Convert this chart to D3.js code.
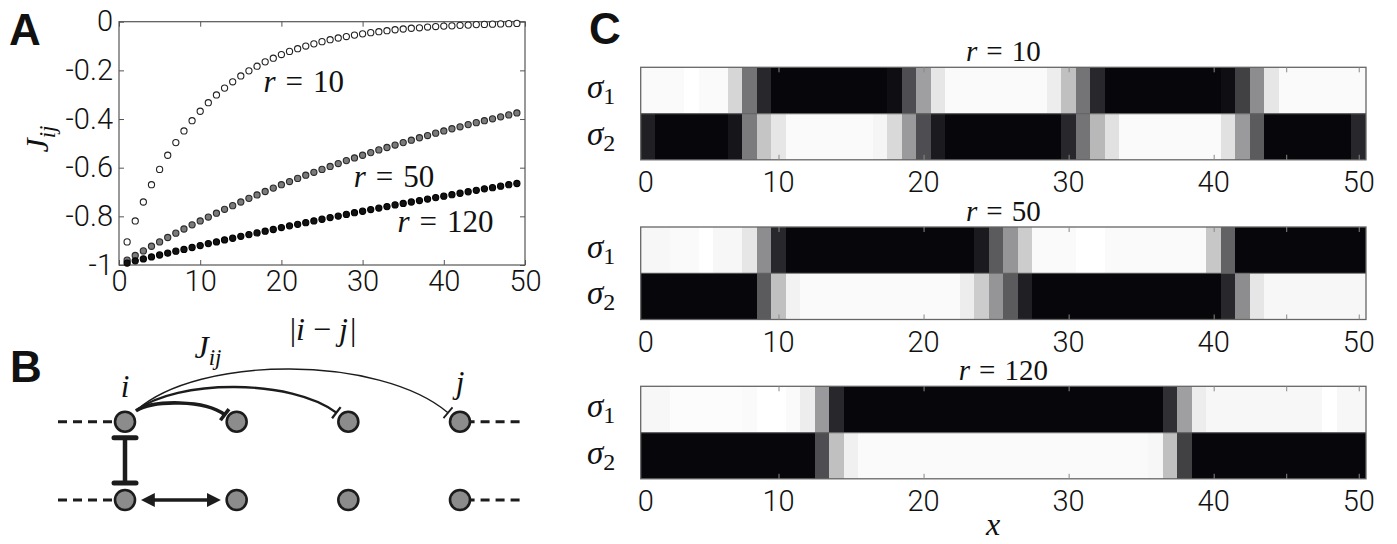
<!DOCTYPE html>
<html>
<head>
<meta charset="utf-8">
<script src="https://cdn.jsdelivr.net/npm/d3@7"></script>
<style>
  body { margin: 0; background: #fff; }
  svg text { fill: #111; }
  .num { font-family: Roboto, 'Liberation Sans', sans-serif; font-weight: 300; }
  .math { font-family: 'Liberation Serif', serif; }
  .panel { font-family: 'Liberation Sans', Arial, sans-serif; font-weight: bold; }
</style>
</head>
<body>
<svg width="1397" height="544"></svg>
<script>
'use strict';

// ---- panel A: coupling J_ij against distance |i-j|
var dist = [1,2,3,4,5,6,7,8,9,10,11,12,13,14,15,16,17,18,19,20,21,22,23,24,25,
  26,27,28,29,30,31,32,33,34,35,36,37,38,39,40,41,42,43,44,45,46,47,48,49];
var jR10 = [-0.905,-0.819,-0.741,-0.670,-0.607,-0.549,-0.497,-0.449,-0.407,-0.368,
  -0.333,-0.301,-0.273,-0.247,-0.223,-0.202,-0.183,-0.165,-0.150,-0.135,
  -0.122,-0.111,-0.100,-0.091,-0.082,-0.074,-0.067,-0.061,-0.055,-0.050,
  -0.045,-0.041,-0.037,-0.033,-0.030,-0.027,-0.025,-0.022,-0.020,-0.018,
  -0.017,-0.015,-0.014,-0.012,-0.011,-0.010,-0.009,-0.008,-0.007];
var jR50 = [-0.980,-0.961,-0.942,-0.923,-0.905,-0.887,-0.869,-0.852,-0.835,-0.819,
  -0.803,-0.787,-0.771,-0.756,-0.741,-0.726,-0.712,-0.698,-0.684,-0.670,
  -0.657,-0.644,-0.631,-0.619,-0.607,-0.595,-0.583,-0.571,-0.560,-0.549,
  -0.538,-0.527,-0.517,-0.507,-0.497,-0.487,-0.477,-0.468,-0.458,-0.449,
  -0.440,-0.432,-0.423,-0.415,-0.407,-0.399,-0.391,-0.383,-0.375];
var jR120 = [-0.992,-0.983,-0.975,-0.967,-0.959,-0.951,-0.943,-0.936,-0.928,-0.920,
  -0.912,-0.905,-0.897,-0.890,-0.882,-0.875,-0.868,-0.861,-0.854,-0.846,
  -0.839,-0.833,-0.826,-0.819,-0.812,-0.805,-0.799,-0.792,-0.785,-0.779,
  -0.772,-0.766,-0.760,-0.753,-0.747,-0.741,-0.735,-0.729,-0.723,-0.717,
  -0.711,-0.705,-0.699,-0.693,-0.687,-0.682,-0.676,-0.670,-0.665];
var radii = [10, 50, 120];
var curveLabelPos = [[17.8, -0.29], [28.9, -0.678], [34.3, -0.863]];
var xTicksA = [0, 10, 20, 30, 40, 50];
var yTicksA = [0, -0.2, -0.4, -0.6, -0.8, -1];

// ---- panel C: mean spin of the two chains (0 black .. 1 white), sites 1..50
var s1R10 = [.98,.98,.98,1,.98,.98,.84,.45,.15,.02,.02,.02,.02,.02,.02,.02,.02,.05,.3,.62,
  .9,.98,.98,.98,.98,.98,.98,.98,.93,.75,.45,.15,.02,.02,.02,.02,.02,.02,.02,.02,
  .05,.25,.55,.9,.98,.98,.98,.98,.98,.98];
var s2R10 = [.12,.02,.02,.02,.02,.02,.08,.48,.77,.9,.98,.98,.98,.98,.98,.98,.96,.85,.6,.3,
  .1,.02,.02,.02,.02,.02,.02,.02,.02,.15,.45,.72,.88,.98,.98,.98,.98,.98,.98,.98,
  .88,.6,.35,.02,.02,.02,.02,.02,.02,.15];
var s1R50 = [.97,.97,.98,.98,1,.97,.97,.9,.55,.15,.02,.02,.02,.02,.02,.02,.02,.02,.02,.02,
  .02,.02,.02,.1,.35,.58,.8,.98,.98,.98,1,1,.98,.98,.98,.98,.98,.98,.98,.78,
  .38,.02,.02,.02,.02,.02,.02,.02,.02,.02];
var s2R50 = [.02,.02,.02,.02,.02,.02,.02,.02,.35,.75,.95,.98,.98,.98,.98,.98,.98,.98,.98,.98,
  .98,.98,.93,.8,.58,.35,.12,.02,.02,.02,.02,.02,.02,.02,.02,.02,.02,.02,.02,.02,
  .15,.55,.9,.97,.97,.97,.97,.97,.97,.97];
var s1R120 = [.97,.97,.99,.99,.99,.99,.99,.98,1,1,.98,.93,.6,.15,.02,.02,.02,.02,.02,.02,
  .02,.02,.02,.02,.02,.02,.02,.02,.02,.02,.02,.02,.02,.02,.02,.02,.18,.62,.93,.97,
  .97,.97,.97,.97,.97,.97,.97,1,.97,.97];
var s2R120 = [.02,.02,.02,.02,.02,.02,.02,.02,.02,.02,.02,.02,.3,.75,.94,.98,.98,.98,.98,.98,
  .98,.98,.98,.98,.98,.98,.98,.98,.98,.98,.98,.98,.98,.98,.98,.97,.75,.25,.02,.02,
  .02,.02,.02,.02,.02,.02,.02,.02,.02,.02];
var stripsC = [[s1R10, s2R10], [s1R50, s2R50], [s1R120, s2R120]];
var xTicksC = [10, 20, 30, 40, 45, 50];
var xLabelsC = [0, 10, 20, 30, 40, 50];

// ---- panel B: lattice sketch
var latticeCols = [0, 1, 2, 3];
var latticeRows = [0, 1];
var arcs = [ { to: 1, peak: 403, w: 3.6 }, { to: 2, peak: 387, w: 2.3 }, { to: 3, peak: 369, w: 1.4 } ];

var svg = d3.select('svg');
var fmtA = d => d === 0 ? '0' : d === -1 ? '-1' : '-' + Math.abs(d).toFixed(1);

function mathLabel(g, x, y, size, parts, anchor) {
  var t = g.append('text').attr('class', 'math').attr('x', x).attr('y', y)
    .attr('font-size', size).attr('text-anchor', anchor || 'start');
  parts.forEach(p => {
    var s = t.append('tspan').text(p.t);
    if (p.i) s.attr('font-style', 'italic');
    if (p.dx) s.attr('dx', p.dx);
    if (p.dy) s.attr('dy', p.dy);
    if (p.fs) s.attr('font-size', p.fs);
  });
  return t;
}

// ================= panel A
(function () {
  var x = d3.scaleLinear().domain([0, 50]).range([119, 525]);
  var y = d3.scaleLinear().domain([-1, 0]).range([265, 21.7]);
  var g = svg.append('g');

  g.append('rect').attr('x', x(0)).attr('y', y(0)).attr('width', x(50) - x(0)).attr('height', y(-1) - y(0))
    .attr('fill', 'none').attr('stroke', '#555').attr('stroke-width', 1.2);

  var ax = g.append('g').attr('transform', `translate(0,${y(-1)})`).attr('class', 'num')
    .call(d3.axisBottom(x).tickValues(xTicksA).tickSizeInner(-5).tickSizeOuter(0).tickPadding(5));
  ax.selectAll('text').attr('font-size', 29).attr('font-family', null).attr('fill', '#111');
  var ay = g.append('g').attr('transform', `translate(${x(0)},0)`).attr('class', 'num')
    .call(d3.axisLeft(y).tickValues(yTicksA).tickSizeInner(-5).tickSizeOuter(0).tickPadding(6).tickFormat(fmtA));
  ay.selectAll('text').attr('font-size', 29).attr('font-family', null).attr('fill', '#111');
  g.append('g').attr('transform', `translate(0,${y(0)})`)
    .call(d3.axisTop(x).tickValues(xTicksA).tickSizeInner(-5).tickSizeOuter(0).tickFormat(''));
  g.append('g').attr('transform', `translate(${x(50)},0)`)
    .call(d3.axisRight(y).tickValues(yTicksA).tickSizeInner(-5).tickSizeOuter(0).tickFormat(''));
  g.selectAll('.domain').remove();
  g.selectAll('.tick line').attr('stroke', '#555');

  var series = [
    { vals: jR10, fill: '#fff', stroke: '#222' },
    { vals: jR50, fill: '#7a7a7a', stroke: '#2a2a2a' },
    { vals: jR120, fill: '#111', stroke: '#000' }
  ];
  series.forEach(s => {
    g.append('g').selectAll('circle').data(dist).join('circle')
      .attr('cx', d => x(d)).attr('cy', (d, i) => y(s.vals[i])).attr('r', 3.1)
      .attr('fill', s.fill).attr('stroke', s.stroke).attr('stroke-width', 1.1);
  });

  radii.forEach((r, k) => {
    mathLabel(g, x(curveLabelPos[k][0]), y(curveLabelPos[k][1]), 31,
      [{ t: 'r', i: 1 }, { t: '=', dx: 10 }, { t: String(r), dx: 10 }]);
  });

  mathLabel(svg, 323, 340, 32, [{ t: '|' }, { t: 'i', i: 1 }, { t: '−', dx: 8 }, { t: 'j', i: 1, dx: 8 }, { t: '|', dx: 2 }], 'middle');
  var yl = svg.append('g').attr('transform', 'translate(48,139) rotate(-90)');
  mathLabel(yl, 0, 0, 32, [{ t: 'J', i: 1 }, { t: 'ij', i: 1, dy: 7, fs: 23 }], 'middle');

  svg.append('text').attr('class', 'panel').attr('x', 9).attr('y', 45).attr('font-size', 44).text('A');
})();

// ================= panel B
(function () {
  var cx = d3.scaleLinear().domain([0, 3]).range([125, 460]);
  var ry = d3.scaleOrdinal().domain(latticeRows).range([421.7, 500]);
  var g = svg.append('g');
  var ink = '#1c1c1c';

  var defs = svg.append('defs');
  defs.append('marker').attr('id', 'ah').attr('viewBox', '0 0 10 10').attr('refX', 7).attr('refY', 5)
    .attr('markerWidth', 14).attr('markerHeight', 14).attr('markerUnits', 'userSpaceOnUse').attr('orient', 'auto-start-reverse')
    .append('path').attr('d', 'M0,0 L10,5 L0,10 Z').attr('fill', ink);

  // dashed continuation of both chains
  latticeRows.forEach(r => {
    [[-0.6, -0.05], [3.05, 3.56]].forEach(seg => {
      g.append('line').attr('x1', cx(seg[0])).attr('x2', cx(seg[1])).attr('y1', ry(r)).attr('y2', ry(r))
        .attr('stroke', ink).attr('stroke-width', 3).attr('stroke-dasharray', '9,6');
    });
  });

  // arcs from i with T heads
  arcs.forEach(a => {
    var x0 = cx(0) + 11, y0 = ry(0) - 11;
    var x1 = cx(a.to) - 12, y1 = ry(0) - (a.to === 1 ? 7 : 9);
    var c = (a.peak - (y0 + y1) / 8) / 0.75;
    var c1x = x0 + (x1 - x0) * 0.2, c2x = x1 - (x1 - x0) * 0.22;
    var p = d3.path();
    p.moveTo(x0, y0);
    p.bezierCurveTo(c1x, c, c2x, c, x1, y1);
    g.append('path').attr('d', p.toString()).attr('fill', 'none').attr('stroke', ink).attr('stroke-width', a.w);
    var dx = x1 - c2x, dy = y1 - c, len = Math.hypot(dx, dy);
    var nx = -dy / len * 7, ny = dx / len * 7;
    g.append('line').attr('x1', x1 + nx).attr('y1', y1 + ny).attr('x2', x1 - nx).attr('y2', y1 - ny)
      .attr('stroke', ink).attr('stroke-width', Math.max(a.w, 1.8));
  });

  // vertical inhibition bar between chains
  var vy0 = ry(0) + 16, vy1 = ry(1) - 17;
  g.append('line').attr('x1', cx(0)).attr('x2', cx(0)).attr('y1', vy0).attr('y2', vy1)
    .attr('stroke', ink).attr('stroke-width', 4.5);
  [vy0, vy1].forEach(yy => g.append('line').attr('x1', cx(0) - 11).attr('x2', cx(0) + 11).attr('y1', yy).attr('y2', yy)
    .attr('stroke', ink).attr('stroke-width', 5).attr('stroke-linecap', 'round'));

  // double arrow on lower chain
  g.append('line').attr('x1', cx(0) + 20).attr('x2', cx(1) - 20).attr('y1', ry(1)).attr('y2', ry(1))
    .attr('stroke', ink).attr('stroke-width', 3.5).attr('marker-start', 'url(#ah)').attr('marker-end', 'url(#ah)');

  latticeRows.forEach(r => {
    g.append('g').selectAll('circle').data(latticeCols).join('circle')
      .attr('cx', d => cx(d)).attr('cy', ry(r)).attr('r', 10)
      .attr('fill', '#8c8c8c').attr('stroke', ink).attr('stroke-width', 2.6);
  });

  mathLabel(g, cx(0), 397, 31, [{ t: 'i', i: 1 }], 'middle');
  mathLabel(g, cx(3), 393, 31, [{ t: 'j', i: 1 }], 'middle');
  mathLabel(g, 208, 358, 32, [{ t: 'J', i: 1 }, { t: 'ij', i: 1, dy: 7, fs: 23 }], 'middle');

  svg.append('text').attr('class', 'panel').attr('x', 10).attr('y', 382).attr('font-size', 44).text('B');
})();

// ================= panel C
(function () {
  var x = d3.scaleLinear().domain([0.5, 50.5]).range([640.7, 1366]);
  var shade = d3.scaleLinear().domain([0, 1]).range(['#020106', '#ffffff']);
  var tops = [67.3, 227, 386.3];
  var h = 92.5;
  var sites = s1R10.map((d, i) => i + 1);

  radii.forEach((r, k) => {
    var g = svg.append('g').attr('transform', `translate(0,${tops[k]})`);
    stripsC[k].forEach((row, j) => {
      g.append('g').attr('shape-rendering', 'crispEdges').selectAll('rect').data(row).join('rect')
        .attr('x', (d, i) => x(sites[i] - 0.5))
        .attr('y', j * h / 2)
        .attr('width', (d, i) => (i === row.length - 1 ? 0 : 1) + x(1.5) - x(0.5))
        .attr('height', h / 2 + (j === 0 ? 1 : 0))
        .attr('fill', d => shade(d));
    });
    g.append('line').attr('x1', x(0.5)).attr('x2', x(50.5)).attr('y1', h / 2).attr('y2', h / 2)
      .attr('stroke', '#666').attr('stroke-width', 1.2);
    g.append('rect').attr('x', x(0.5)).attr('y', 0).attr('width', x(50.5) - x(0.5)).attr('height', h)
      .attr('fill', 'none').attr('stroke', '#666').attr('stroke-width', 1.3);

    g.append('g').attr('transform', `translate(0,${h})`)
      .call(d3.axisBottom(x).tickValues(xTicksC).tickSizeInner(-5).tickSizeOuter(0).tickFormat(''));
    g.append('g').call(d3.axisTop(x).tickValues(xTicksC).tickSizeInner(-5).tickSizeOuter(0).tickFormat(''));
    g.selectAll('.domain').remove();
    g.selectAll('.tick line').attr('stroke', '#888');

    g.append('g').selectAll('text').data(xLabelsC).join('text').attr('class', 'num')
      .attr('x', d => x(Math.min(Math.max(d, 0.85), 50.3))).attr('y', h + 32)
      .attr('font-size', 29).attr('text-anchor', 'middle').text(d => d);

    mathLabel(g, (x(0.5) + x(50.5)) / 2, -6, 29, [{ t: 'r', i: 1 }, { t: '=', dx: 9 }, { t: String(r), dx: 9 }], 'middle');
    [1, 2].forEach((s, j) => {
      mathLabel(g, 587, j * h / 2 + h / 4 + 8, 33, [{ t: 'σ', i: 1 }, { t: String(s), dy: 6, fs: 24 }]);
    });
  });

  mathLabel(svg, 993, 535, 32, [{ t: 'x', i: 1 }], 'middle');
  svg.append('text').attr('class', 'panel').attr('x', 589).attr('y', 44).attr('font-size', 44).text('C');
})();
</script>
</body>
</html>
